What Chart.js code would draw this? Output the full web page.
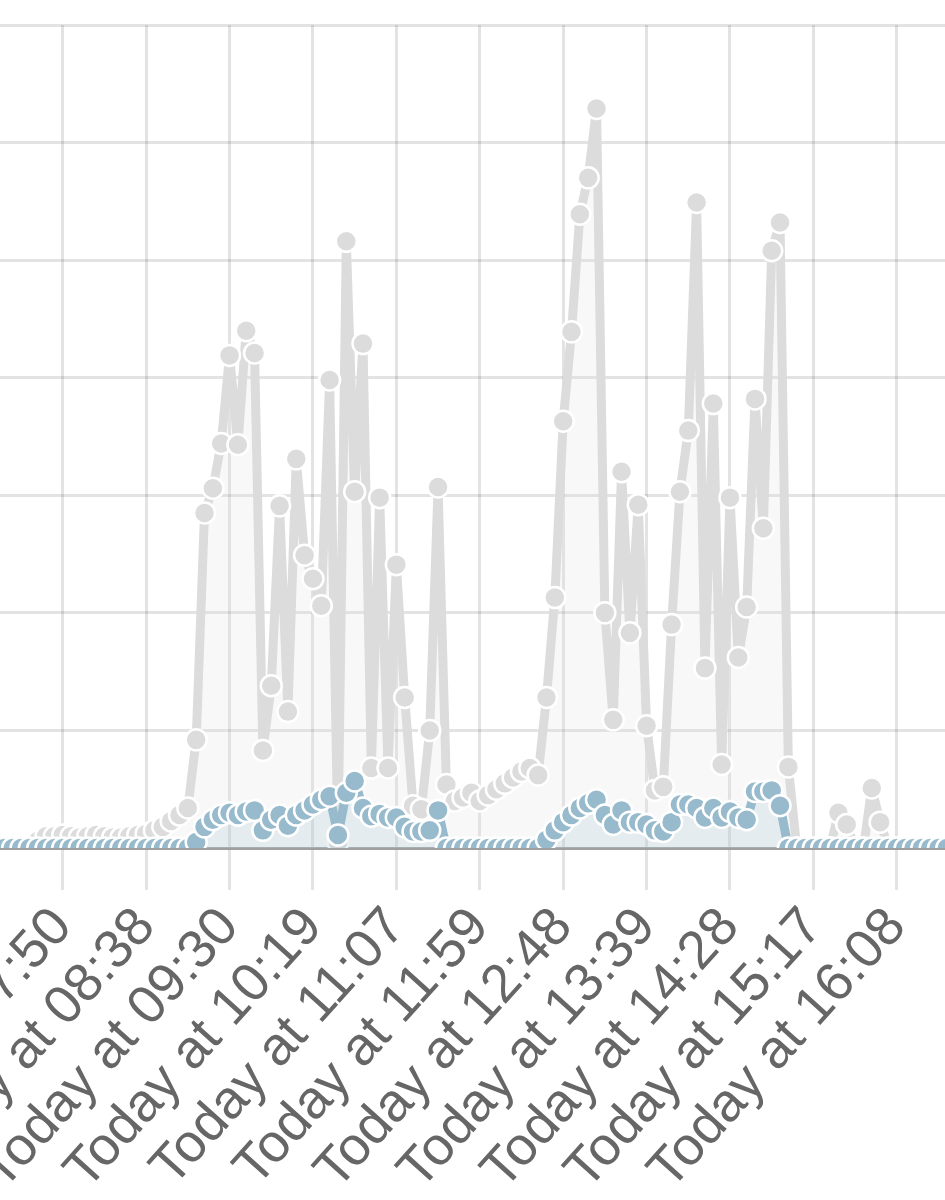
<!DOCTYPE html>
<html>
<head>
<meta charset="utf-8">
<script src="https://cdn.jsdelivr.net/npm/chart.js@4/dist/chart.umd.min.js"></script>
<style>
  html, body { margin: 0; padding: 0; background: #fff; }
  #frame { position: relative; width: 945px; height: 1200px; overflow: hidden; }
  #frame canvas { position: absolute; left: -30px; top: 0; }
</style>
</head>
<body>
<div id="frame"><canvas id="chart" width="1031" height="1200"></canvas></div>
<script>
// only every 10th point gets a visible label
const tickLabels = [
  'Today at 07:50', 'Today at 08:38', 'Today at 09:30', 'Today at 10:19',
  'Today at 11:07', 'Today at 11:59', 'Today at 12:48', 'Today at 13:39',
  'Today at 14:28', 'Today at 15:17', 'Today at 16:08',
]
const firstTick = 8
const tickEvery = 10

const greyValues = [
  0, 0, 0, 0, 0, 0.6, 1.0, 1.0, 1.1, 1.0,
  0.9, 1.0, 1.1, 1.0, 0.9, 0.9, 1.0, 1.1, 1.2, 1.5,
  1.8, 2.3, 2.8, 3.4, 9.2, 28.5, 30.6, 34.4, 41.9, 34.3,
  44.0, 42.1, 8.3, 13.8, 29.1, 11.6, 33.1, 24.9, 22.9, 20.6,
  39.8, 0.5, 51.6, 30.3, 42.9, 6.8, 29.8, 6.8, 24.1, 12.8,
  3.6, 3.3, 10.0, 30.7, 5.4, 4.0, 4.3, 4.7, 4.0, 4.5,
  5.0, 5.5, 6.0, 6.5, 6.8, 6.2, 12.8, 21.3, 36.3, 43.9,
  53.9, 57.0, 62.9, 20.0, 10.9, 32.0, 18.3, 29.2, 10.4, 4.9,
  5.2, 19.0, 30.3, 35.5, 54.9, 15.3, 37.8, 7.1, 29.8, 16.2,
  20.5, 38.2, 27.2, 50.8, 53.2, 6.9, 0, 0, 0, 0,
  0, 3.0, 2.0, 0, 0, 5.1, 2.2, 0, 0, 0,
  0, 0, 0, 0, 0,
]

const blueValues = [
  0, 0, 0, 0, 0, 0, 0, 0, 0, 0,
  0, 0, 0, 0, 0, 0, 0, 0, 0, 0,
  0, 0, 0, 0, 0.5, 1.8, 2.4, 2.8, 3.0, 2.8,
  3.1, 3.2, 1.5, 2.4, 2.8, 1.9, 2.8, 3.2, 3.7, 4.1,
  4.4, 1.1, 4.7, 5.7, 3.4, 2.7, 2.9, 2.6, 2.6, 1.8,
  1.4, 1.4, 1.5, 3.2, 0, 0, 0, 0, 0, 0,
  0, 0, 0, 0, 0, 0, 0.7, 1.5, 2.2, 2.8,
  3.4, 3.8, 4.1, 2.8, 2.0, 3.2, 2.2, 2.2, 2.0, 1.5,
  1.4, 2.2, 3.7, 3.7, 3.4, 2.6, 3.4, 2.6, 3.1, 2.6,
  2.4, 4.8, 4.8, 4.9, 3.6, 0, 0, 0, 0, 0,
  0, 0, 0, 0, 0, 0, 0, 0, 0, 0,
  0, 0, 0, 0, 0,
]

const labels = greyValues.map((v, i) => {
  const k = (i - firstTick) / tickEvery
  return Number.isInteger(k) && tickLabels[k] ? tickLabels[k] : ''
})

const gridColor = 'rgba(0, 0, 0, 0.11)'

const ctx = document.getElementById('chart').getContext('2d')
const myChart = new Chart(ctx, {
  type: 'line',
  data: {
    labels: labels,
    datasets: [
      {
        label: 'grey',
        data: greyValues,
        order: 2,
        clip: 0,
        tension: 0,
        fill: 'origin',
        backgroundColor: 'rgba(220, 220, 220, 0.2)',
        borderColor: 'rgba(220, 220, 220, 1)',
        borderWidth: 9,
        borderJoinStyle: 'round',
        pointRadius: 10.5,
        pointBorderWidth: 2.5,
        pointBackgroundColor: 'rgba(220, 220, 220, 1)',
        pointBorderColor: '#fff',
      },
      {
        label: 'blue',
        data: blueValues,
        order: 1,
        clip: 0,
        tension: 0,
        fill: 'origin',
        backgroundColor: 'rgba(151, 187, 205, 0.2)',
        borderColor: 'rgba(151, 187, 205, 1)',
        borderWidth: 9,
        borderJoinStyle: 'round',
        pointRadius: 10.5,
        pointBorderWidth: 2.5,
        pointBackgroundColor: 'rgba(151, 187, 205, 1)',
        pointBorderColor: '#fff',
      },
    ],
  },
  options: {
    responsive: false,
    animation: false,
    layout: {
      padding: { left: 26, right: 30, top: 25, bottom: 0 },
    },
    plugins: {
      legend: { display: false },
      tooltip: { enabled: false },
    },
    scales: {
      x: {
        afterFit: (scale) => {
          scale.height = 352
        },
        border: { color: 'rgba(0, 0, 0, 0.3)', width: 3 },
        grid: {
          lineWidth: 3,
          tickLength: 42,
          color: (c) => (c.tick && c.tick.label ? gridColor : 'transparent'),
        },
        ticks: {
          autoSkip: false,
          minRotation: 48,
          maxRotation: 48,
          padding: 6,
          color: '#666',
          font: { family: 'Liberation Sans', size: 54 },
        },
      },
      y: {
        min: 0,
        max: 70,
        border: { display: false },
        grid: { lineWidth: 3, color: gridColor, drawTicks: false },
        ticks: { display: false, stepSize: 10 },
      },
    },
  },
})
</script>
</body>
</html>
